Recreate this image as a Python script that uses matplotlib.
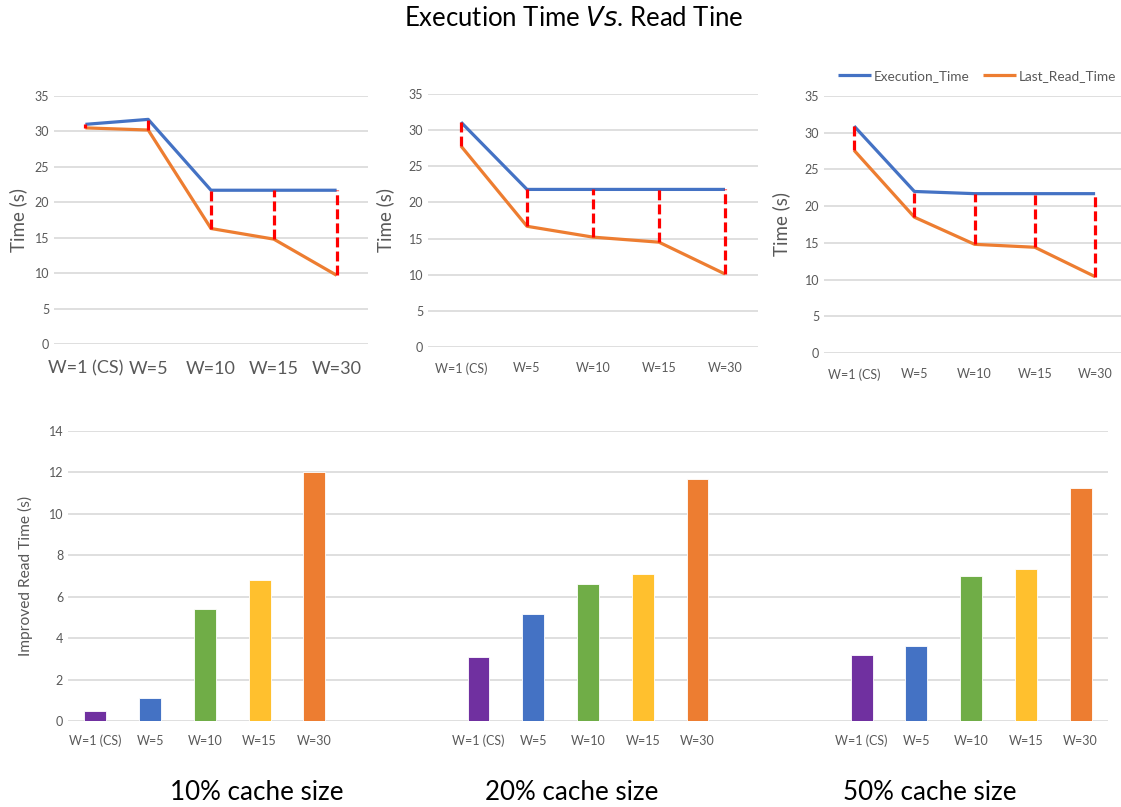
import matplotlib.pyplot as plt
import numpy as np

plt.rcParams['font.family'] = ['Lato', 'DejaVu Sans']

# Dados
workers = ["W=1 (CS)", "W=5", "W=10", "W=15", "W=30"]
cache_sizes = ["10% cache size", "20% cache size", "50% cache size"]

exec_10 = [31.0, 31.7, 21.7, 21.7, 21.7]
read_10 = [30.5, 30.2, 16.3, 14.8, 9.7]
exec_20 = [31.1, 21.8, 21.8, 21.8, 21.8]
read_20 = [27.8, 16.7, 15.2, 14.5, 10.1]
exec_50 = [30.9, 22.0, 21.7, 21.7, 21.7]
read_50 = [27.6, 18.5, 14.8, 14.4, 10.4]

improved_10 = [0.5, 1.1, 5.4, 6.8, 12.0]
improved_20 = [3.1, 5.15, 6.6, 7.1, 11.7]
improved_50 = [3.2, 3.6, 7.0, 7.35, 11.25]

blue = "#4472C4"
orange = "#ED7D31"
bar_colors = ["#7030A0", "#4472C4", "#70AD47", "#FFC02E", "#ED7D31"]
grid_c = "#D9D9D9"
tick_c = "#595959"

W, H = 1121, 807
fig = plt.figure(figsize=(W / 100, H / 100), dpi=100)


def px_axes(left, right, top, bottom):
    return fig.add_axes([left / W, 1 - bottom / H, (right - left) / W, (bottom - top) / H])


def style(ax):
    for s in ax.spines.values():
        s.set_visible(False)
    ax.tick_params(length=0, colors=tick_c)
    ax.grid(axis='y', color=grid_c, lw=1.2)
    ax.set_axisbelow(True)


def line_panel(ax, ex, rd, xfs, xlim_right, ylab_x, xpad):
    x = np.arange(len(workers))
    ax.plot(x, ex, color=blue, lw=2.3, label="Execution_Time", solid_capstyle='butt')
    ax.plot(x, rd, color=orange, lw=2.3, label="Last_Read_Time", solid_capstyle='butt')
    ax.vlines(x, rd, ex, colors="#FF0000", lw=2.3, linestyles=(0, (3.1, 1.3)), zorder=3)
    ax.set_ylim(0, 35)
    ax.set_yticks(range(0, 36, 5))
    ax.set_xlim(-0.5, xlim_right)
    ax.set_xticks(x)
    ax.set_xticklabels(workers, fontsize=xfs)
    ax.tick_params(axis='y', labelsize=9)
    ax.tick_params(axis='x', pad=xpad)
    ax.set_ylabel("Time (s)", fontsize=13.5, color=tick_c)
    ax.yaxis.set_label_coords(ylab_x, 0.5)
    style(ax)


ax1 = px_axes(54, 368, 96, 344)
line_panel(ax1, exec_10, read_10, 13, 4.5, -0.086, 12)

ax2 = px_axes(428, 758, 94, 347)
line_panel(ax2, exec_20, read_20, 9, 4.5, -0.103, 11)

ax3 = px_axes(824, 1121, 96, 353)
line_panel(ax3, exec_50, read_50, 9, 4.43, -0.114, 11)

handles, labels = ax3.get_legend_handles_labels()
fig.legend(handles, labels, loc='center', bbox_to_anchor=(977 / W, 1 - 76 / H), ncol=2,
           frameon=False, fontsize=9.8, handlelength=2.4, columnspacing=1.0,
           handletextpad=0.2, labelcolor=tick_c)

# Gráfico de barras inferior
ax4 = px_axes(68, 1108, 431, 721)
groups = [improved_10, improved_20, improved_50]
pos, labs = [], []
for g, vals in enumerate(groups):
    p = g * 7 + np.arange(len(workers))
    ax4.bar(p, vals, width=0.4, color=bar_colors, edgecolor='white', linewidth=0.6)
    pos.extend(p)
    labs.extend(workers)
ax4.set_xticks(pos)
ax4.set_xticklabels(labs, fontsize=9)
ax4.set_xlim(-0.5, 18.5)
ax4.set_ylim(0, 14)
ax4.set_yticks(range(0, 15, 2))
ax4.tick_params(axis='y', labelsize=9)
ax4.tick_params(axis='x', pad=10)
ax4.set_ylabel("Improved Read Time (s)", fontsize=11.2, color=tick_c)
ax4.yaxis.set_label_coords(-0.034, 0.5)
style(ax4)

for cx, txt in zip([257, 572, 930], cache_sizes):
    fig.text(cx / W, 1 - 793 / H, txt, ha='center', va='center', fontsize=18.7, color='black')

fig.text(574 / W, 1 - 18 / H, r"Execution Time $\it{Vs}$. Read Tine", ha='center', va='center',
         fontsize=18.5, color='black')

fig.savefig("out.png", dpi=100)
plt.close()
